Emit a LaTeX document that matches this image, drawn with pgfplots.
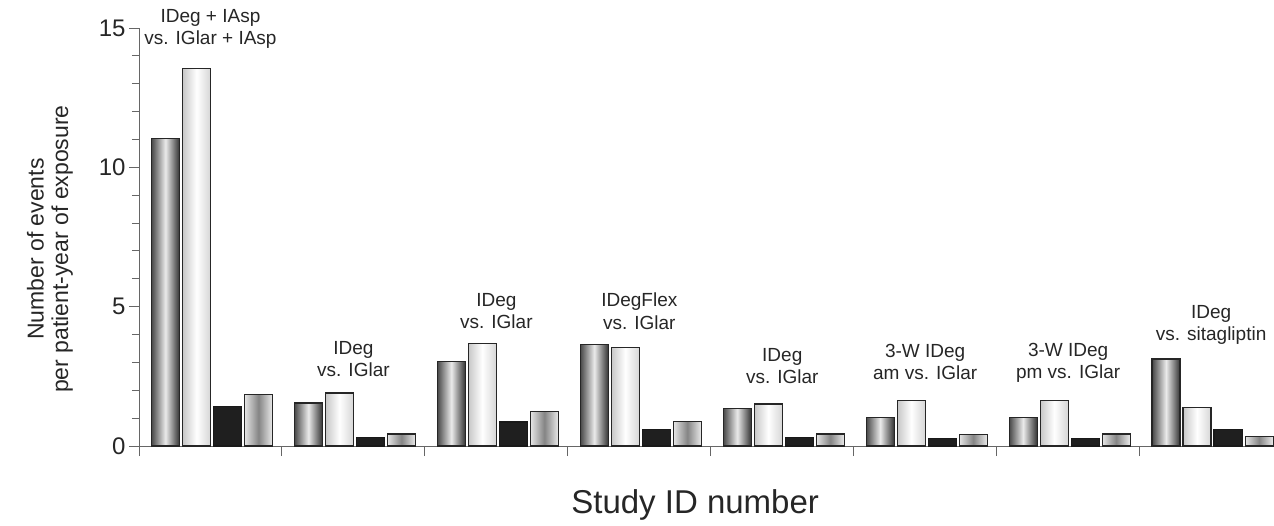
\documentclass[border=0pt]{standalone}
\usepackage{pgfplots}
\pgfplotsset{compat=1.18}
\usepackage{fontspec}
\setmainfont{Liberation Sans}

% one bar: group index, shift (axis units), value, style
\newcommand{\sbar}[4]{%
  \pgfmathsetmacro{\xa}{#1+#2-0.098}%
  \pgfmathsetmacro{\xb}{#1+#2+0.098}%
  \addplot[#4, forget plot] coordinates {(\xa,#3) (\xb,#3)} \closedcycle;}

\pgfplotsset{
  s1/.style={draw=black!85, line width=1.2pt, left color=black!72, right color=black!80, middle color=black!8},
  s2/.style={draw=black!85, line width=1.2pt, left color=black!22, right color=black!16, middle color=white},
  s3/.style={draw=black!90, line width=1.2pt, fill=black!88},
  s4/.style={draw=black!85, line width=1.2pt, left color=black!10, right color=black!8, middle color=black!48},
}

\begin{document}
\begin{tikzpicture}
\begin{axis}[
  at={(0,0)}, anchor=south west,
  scale only axis, width=1135pt, height=418pt,
  xmin=-0.5, xmax=7.44, ymin=0, ymax=15,
  axis lines*=left,
  axis line style={draw=black!60, line width=0.9pt},
  tick align=outside,
  major tick length=10pt, minor tick length=7pt,
  tick style={draw=black!60, line width=0.9pt},
  ytick={0,5,10,15}, minor ytick={1,2,3,4,6,7,8,9,11,12,13,14},
  xtick={0,...,7},
  xticklabels={3582,3579,3586,3668,3672,3718,3724,3580},
  xmajorticks=false,
  extra x ticks={-0.5,0.5,1.5,2.5,3.5,4.5,5.5,6.5},
  extra x tick labels={},
  extra x tick style={xmajorticks=true},
  /pgf/number format/assume math mode=true,
  tick label style={font=\fontsize{24}{26}\selectfont, text=black!85},
  xticklabel style={yshift=-14pt},
  xlabel={Study ID number},
  xlabel style={font=\fontsize{33}{35}\selectfont, text=black!85, at={(axis description cs:0.49,0)}, anchor=center, yshift=-59pt},
  ylabel={Number of events\\per patient-year of exposure},
  ylabel style={font=\fontsize{23}{24.5}\selectfont, text=black!85, align=center, at={(axis description cs:-0.0784,0.471)}, anchor=center},
  clip=false,
]
% study 3582
\sbar{0}{-0.315}{11.04}{s1} \sbar{0}{-0.098}{13.55}{s2} \sbar{0}{0.119}{1.42}{s3} \sbar{0}{0.336}{1.86}{s4}
% study 3579
\sbar{1}{-0.315}{1.54}{s1} \sbar{1}{-0.098}{1.90}{s2} \sbar{1}{0.119}{0.31}{s3} \sbar{1}{0.336}{0.43}{s4}
% study 3586
\sbar{2}{-0.315}{3.02}{s1} \sbar{2}{-0.098}{3.68}{s2} \sbar{2}{0.119}{0.86}{s3} \sbar{2}{0.336}{1.25}{s4}
% study 3668
\sbar{3}{-0.315}{3.63}{s1} \sbar{3}{-0.098}{3.54}{s2} \sbar{3}{0.119}{0.60}{s3} \sbar{3}{0.336}{0.87}{s4}
% study 3672
\sbar{4}{-0.315}{1.36}{s1} \sbar{4}{-0.098}{1.51}{s2} \sbar{4}{0.119}{0.31}{s3} \sbar{4}{0.336}{0.43}{s4}
% study 3718
\sbar{5}{-0.315}{1.03}{s1} \sbar{5}{-0.098}{1.63}{s2} \sbar{5}{0.119}{0.26}{s3} \sbar{5}{0.336}{0.42}{s4}
% study 3724
\sbar{6}{-0.315}{1.03}{s1} \sbar{6}{-0.098}{1.63}{s2} \sbar{6}{0.119}{0.26}{s3} \sbar{6}{0.336}{0.43}{s4}
% study 3580
\sbar{7}{-0.315}{3.12}{s1} \sbar{7}{-0.098}{1.38}{s2} \sbar{7}{0.119}{0.58}{s3} \sbar{7}{0.336}{0.34}{s4}

\begin{scope}[every node/.style={font=\fontsize{19}{22.5}\selectfont, text=black!85, align=center, anchor=center}]
\node at (axis cs:0,14.96) {IDeg + IAsp\\vs. IGlar + IAsp};
\node at (axis cs:1,3.12) {IDeg\\vs. IGlar};
\node at (axis cs:2,4.84) {IDeg\\vs. IGlar};
\node at (axis cs:3,4.84) {IDegFlex\\vs. IGlar};
\node at (axis cs:4,2.87) {IDeg\\vs. IGlar};
\node at (axis cs:5,3.01) {3-W IDeg\\am vs. IGlar};
\node at (axis cs:6,2.98) {3-W IDeg\\pm vs. IGlar};
\node at (axis cs:7,4.34) {IDeg\\vs. sitagliptin};
\end{scope}
\end{axis}
\pgfresetboundingbox
\path[use as bounding box] (-139pt,-79pt) rectangle (1135pt,446pt);
\end{tikzpicture}
\end{document}
